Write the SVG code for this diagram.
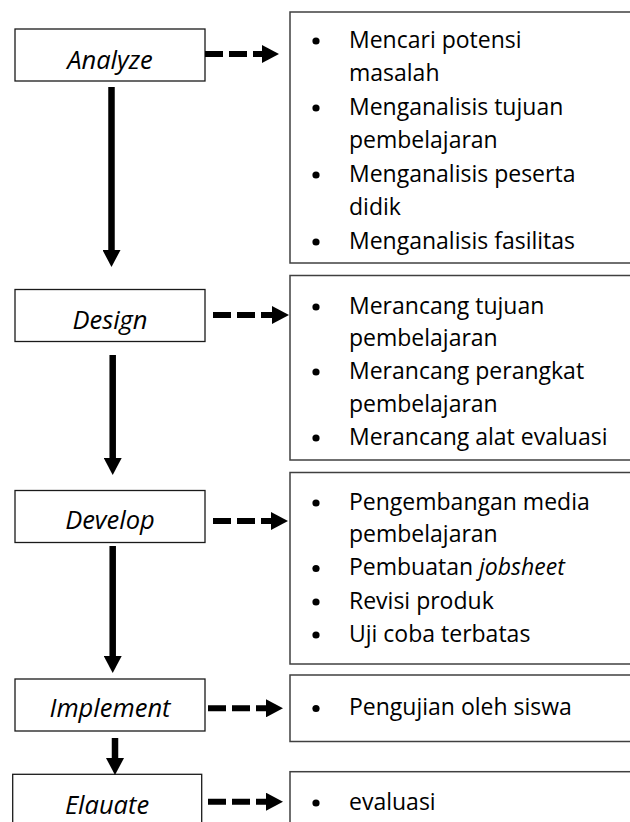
<svg xmlns="http://www.w3.org/2000/svg" width="630" height="822" viewBox="0 0 630 822">
<style>
.stage{fill:#fff;stroke:#1a1a1a;stroke-width:1.3}
.list{fill:#fff;stroke:#404040;stroke-width:1.5}
.lbl{font-family:"Open Sans","Noto Sans",sans-serif;font-size:25.5px;font-style:italic;fill:#000;text-anchor:middle}
.item{font-family:"Open Sans","Noto Sans",sans-serif;font-size:23px;fill:#000}
.solid{stroke:#000;stroke-width:6.5;fill:none}
.dash{stroke:#000;stroke-width:6;fill:none;stroke-dasharray:18 6}
.dot{fill:#000}
</style>
<defs>
<marker id="head" markerUnits="userSpaceOnUse" markerWidth="18" markerHeight="18" refX="0" refY="9" orient="auto" viewBox="0 0 18 18">
<path d="M0,0 L17,9 L0,18 z" fill="#000"/>
</marker>
</defs>
<g id="analyze">
<rect class="stage" x="15" y="29" width="190" height="52"/>
<text class="lbl" x="110" y="68.5">Analyze</text>
</g>
<g id="design">
<rect class="stage" x="15" y="289.5" width="190" height="52"/>
<text class="lbl" x="110" y="328.5">Design</text>
</g>
<g id="develop">
<rect class="stage" x="15" y="490.5" width="190" height="52"/>
<text class="lbl" x="110" y="528.5">Develop</text>
</g>
<g id="implement">
<rect class="stage" x="15" y="679" width="190" height="52"/>
<text class="lbl" x="110" y="717">Implement</text>
</g>
<g id="evaluate">
<rect class="stage" x="12.7" y="774.3" width="189" height="60"/>
<text class="lbl" x="107" y="814">Elauate</text>
</g>
<g id="analyze-list">
<rect class="list" x="290" y="12" width="360" height="251"/>
<circle class="dot" cx="316" cy="41" r="3.6"/>
<circle class="dot" cx="316" cy="108" r="3.6"/>
<circle class="dot" cx="316" cy="175" r="3.6"/>
<circle class="dot" cx="316" cy="242" r="3.6"/>
<text class="item" x="349" y="47.5">Mencari potensi</text>
<text class="item" x="349" y="81">masalah</text>
<text class="item" x="349" y="114.5">Menganalisis tujuan</text>
<text class="item" x="349" y="148">pembelajaran</text>
<text class="item" x="349" y="181.5">Menganalisis peserta</text>
<text class="item" x="349" y="215">didik</text>
<text class="item" x="349" y="248.5">Menganalisis fasilitas</text>
</g>
<g id="design-list">
<rect class="list" x="290" y="275.5" width="360" height="184.5"/>
<circle class="dot" cx="316" cy="307" r="3.6"/>
<circle class="dot" cx="316" cy="372" r="3.6"/>
<circle class="dot" cx="316" cy="438" r="3.6"/>
<text class="item" x="349" y="313.5">Merancang tujuan</text>
<text class="item" x="349" y="346">pembelajaran</text>
<text class="item" x="349" y="378.5">Merancang perangkat</text>
<text class="item" x="349" y="411.5">pembelajaran</text>
<text class="item" x="349" y="444.5">Merancang alat evaluasi</text>
</g>
<g id="develop-list">
<rect class="list" x="290" y="472.5" width="360" height="191.5"/>
<circle class="dot" cx="316" cy="503" r="3.6"/>
<circle class="dot" cx="316" cy="568.5" r="3.6"/>
<circle class="dot" cx="316" cy="602" r="3.6"/>
<circle class="dot" cx="316" cy="635" r="3.6"/>
<text class="item" x="349" y="509.5">Pengembangan media</text>
<text class="item" x="349" y="542">pembelajaran</text>
<text class="item" x="349" y="575">Pembuatan <tspan font-style="italic">jobsheet</tspan></text>
<text class="item" x="349" y="608.5">Revisi produk</text>
<text class="item" x="349" y="641.5">Uji coba terbatas</text>
</g>
<g id="implement-list">
<rect class="list" x="290" y="675" width="360" height="66.5"/>
<circle class="dot" cx="316" cy="708.5" r="3.6"/>
<text class="item" x="349" y="715">Pengujian oleh siswa</text>
</g>
<g id="evaluate-list">
<rect class="list" x="290" y="771.7" width="360" height="80"/>
<circle class="dot" cx="316" cy="803" r="3.6"/>
<text class="item" x="349" y="809.5">evaluasi</text>
</g>
<g id="connectors">
<line class="solid" x1="111.5" y1="87" x2="111.5" y2="250" marker-end="url(#head)"/>
<line class="solid" x1="112.7" y1="355" x2="112.7" y2="458" marker-end="url(#head)"/>
<line class="solid" x1="112.7" y1="546" x2="112.7" y2="656" marker-end="url(#head)"/>
<line class="solid" x1="115" y1="738" x2="115" y2="758" marker-end="url(#head)"/>
<line class="dash" x1="205" y1="54" x2="262" y2="54" marker-end="url(#head)"/>
<line class="dash" x1="213" y1="315" x2="272" y2="315" marker-end="url(#head)"/>
<line class="dash" x1="213" y1="521" x2="271" y2="521" marker-end="url(#head)"/>
<line class="dash" x1="208" y1="708.3" x2="266" y2="708.3" marker-end="url(#head)"/>
<line class="dash" x1="208" y1="801.7" x2="266" y2="801.7" marker-end="url(#head)"/>
</g>
</svg>
